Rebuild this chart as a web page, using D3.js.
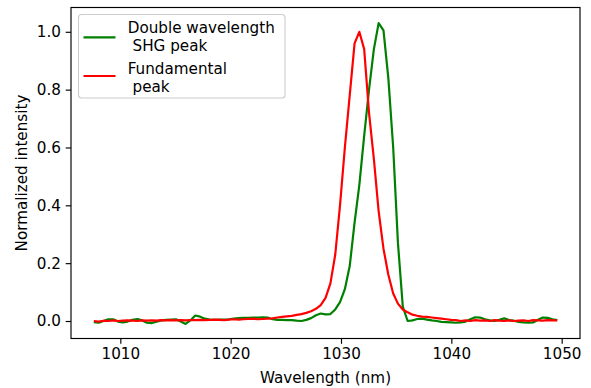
<!DOCTYPE html>
<html>
<head>
<meta charset="utf-8">
<script src="https://cdn.jsdelivr.net/npm/d3@7"></script>
<style>
  html, body { margin: 0; padding: 0; background: #ffffff; }
  svg { display: block; font-family: "DejaVu Sans", sans-serif; }
  text { white-space: pre; }
</style>
</head>
<body>
<svg id="chart" width="591" height="388"></svg>
<script>
// ---- data ----
const wavelength = [
  1007.60, 1008.04, 1008.48, 1008.91, 1009.35, 1009.79, 1010.23, 1010.66, 1011.10, 1011.54,
  1011.98, 1012.41, 1012.85, 1013.29, 1013.73, 1014.16, 1014.60, 1015.04, 1015.48, 1015.91,
  1016.35, 1016.79, 1017.23, 1017.66, 1018.10, 1018.54, 1018.98, 1019.41, 1019.85, 1020.29,
  1020.73, 1021.16, 1021.60, 1022.04, 1022.48, 1022.91, 1023.35, 1023.79, 1024.23, 1024.66,
  1025.10, 1025.54, 1025.98, 1026.41, 1026.85, 1027.29, 1027.73, 1028.16, 1028.60, 1029.04,
  1029.48, 1029.91, 1030.35, 1030.79, 1031.23, 1031.66, 1032.10, 1032.54, 1032.98, 1033.41,
  1033.85, 1034.29, 1034.73, 1035.16, 1035.60, 1036.04, 1036.48, 1036.91, 1037.35, 1037.79,
  1038.23, 1038.66, 1039.10, 1039.54, 1039.98, 1040.41, 1040.85, 1041.29, 1041.73, 1042.16,
  1042.60, 1043.04, 1043.48, 1043.91, 1044.35, 1044.79, 1045.23, 1045.66, 1046.10, 1046.54,
  1046.98, 1047.41, 1047.85, 1048.29, 1048.73, 1049.16, 1049.60
];
const shgPeak = [
  -0.004, -0.006, 0.000, 0.006, 0.006, -0.002, -0.005, -0.002, 0.004, 0.007,
  0.002, -0.006, -0.007, -0.002, 0.002, 0.004, 0.005, 0.006, -0.002, -0.010,
  0.002, 0.019, 0.015, 0.008, 0.005, 0.004, 0.005, 0.005, 0.006, 0.008,
  0.010, 0.011, 0.011, 0.012, 0.012, 0.013, 0.012, 0.006, 0.004, 0.004,
  0.003, 0.003, 0.001, 0.000, 0.004, 0.010, 0.020, 0.026, 0.023, 0.024,
  0.040, 0.065, 0.110, 0.190, 0.340, 0.470, 0.640, 0.800, 0.940, 1.030,
  1.005, 0.840, 0.600, 0.270, 0.050, 0.000, 0.002, 0.007, 0.008, 0.005,
  0.002, 0.000, -0.003, -0.004, -0.005, -0.006, -0.005, -0.002, 0.006, 0.013,
  0.012, 0.006, 0.002, 0.000, 0.004, 0.009, 0.003, 0.001, -0.003, -0.005,
  -0.006, -0.005, 0.004, 0.012, 0.011, 0.006, 0.003
];
const fundamentalPeak = [
  0.000, -0.002, 0.001, 0.000, 0.002, 0.000, 0.001, 0.002, 0.001, 0.000,
  0.002, 0.001, 0.002, 0.001, 0.003, 0.002, 0.003, 0.002, 0.003, 0.002,
  0.003, 0.003, 0.004, 0.003, 0.004, 0.005, 0.004, 0.003, 0.005, 0.006,
  0.005, 0.006, 0.007, 0.008, 0.006, 0.007, 0.008, 0.009, 0.012, 0.014,
  0.016, 0.018, 0.021, 0.024, 0.028, 0.034, 0.042, 0.055, 0.080, 0.130,
  0.230, 0.400, 0.600, 0.780, 0.960, 1.000, 0.940, 0.720, 0.560, 0.380,
  0.250, 0.160, 0.095, 0.060, 0.040, 0.030, 0.022, 0.018, 0.015, 0.014,
  0.012, 0.010, 0.008, 0.006, 0.004, 0.003, 0.000, 0.002, 0.000, 0.003,
  0.001, 0.002, 0.000, 0.003, 0.001, 0.000, 0.002, 0.000, 0.001, 0.002,
  0.000, 0.003, 0.002, 0.001, 0.003, 0.002, 0.002
];
const xTicks = [1010, 1020, 1030, 1040, 1050];
const yTicks = [0.0, 0.2, 0.4, 0.6, 0.8, 1.0];
const seriesNames = ["Double wavelength\n SHG peak", "Fundamental\n peak"];
const seriesColors = ["green", "red"];
const xLabel = "Wavelength (nm)";
const yLabel = "Normalized intensity";

// ---- layout ----
const plot = { left: 71, right: 580, top: 7.5, bottom: 338.5 };
const fontSize = 15.2;

const svg = d3.select("#chart");

const x = d3.scaleLinear().domain([1005.53, 1051.66]).range([plot.left, plot.right]);
const y = d3.scaleLinear().domain([-0.0605, 1.084]).range([plot.bottom, plot.top]);

// clip
svg.append("defs").append("clipPath").attr("id", "clip")
  .append("rect")
  .attr("x", plot.left).attr("y", plot.top)
  .attr("width", plot.right - plot.left).attr("height", plot.bottom - plot.top);

// lines
const series = [shgPeak, fundamentalPeak];
const line = d3.line()
  .x((d, i) => x(wavelength[i]))
  .y(d => y(d));

const g = svg.append("g").attr("clip-path", "url(#clip)");
series.forEach((vals, k) => {
  g.append("path")
    .datum(vals)
    .attr("fill", "none")
    .attr("stroke", seriesColors[k])
    .attr("stroke-width", 2.2)
    .attr("stroke-linejoin", "round")
    .attr("stroke-linecap", "butt")
    .attr("d", line);
});

// axes
const xAxis = d3.axisBottom(x).tickValues(xTicks).tickFormat(d3.format("d"))
  .tickSizeInner(5.3).tickSizeOuter(0).tickPadding(4.8);
const yAxis = d3.axisLeft(y).tickValues(yTicks).tickFormat(d3.format(".1f"))
  .tickSizeInner(5.3).tickSizeOuter(0).tickPadding(4.8);

const gx = svg.append("g").attr("transform", `translate(0,${plot.bottom})`).call(xAxis);
const gy = svg.append("g").attr("transform", `translate(${plot.left},0)`).call(yAxis);
[gx, gy].forEach(a => {
  a.select(".domain").remove();
  a.selectAll(".tick line").attr("stroke", "#000").attr("stroke-width", 1.15);
  a.selectAll(".tick text").attr("fill", "#000")
    .style("font-family", "DejaVu Sans").style("font-size", fontSize + "px");
});

// frame
svg.append("rect")
  .attr("x", plot.left).attr("y", plot.top)
  .attr("width", plot.right - plot.left).attr("height", plot.bottom - plot.top)
  .attr("fill", "none").attr("stroke", "#000").attr("stroke-width", 1.15);

// axis labels
svg.append("text")
  .attr("x", (plot.left + plot.right) / 2).attr("y", 383)
  .attr("text-anchor", "middle")
  .style("font-size", fontSize + "px").attr("fill", "#000")
  .text(xLabel);
svg.append("text")
  .attr("transform", `translate(26.5,${(plot.top + plot.bottom) / 2}) rotate(-90)`)
  .attr("text-anchor", "middle")
  .style("font-size", fontSize + "px").attr("fill", "#000")
  .text(yLabel);

// legend
const leg = svg.append("g");
leg.append("rect")
  .attr("x", 78.5).attr("y", 14.5).attr("width", 206.5).attr("height", 83.5)
  .attr("rx", 3).attr("ry", 3)
  .attr("fill", "#ffffff").attr("fill-opacity", 0.8)
  .attr("stroke", "#cccccc").attr("stroke-width", 1.1);

const entryLineY = [37.3, 76];
const entryTextY = [32.9, 73.9];
seriesNames.forEach((name, k) => {
  leg.append("line")
    .attr("x1", 83.5).attr("x2", 115.5)
    .attr("y1", entryLineY[k]).attr("y2", entryLineY[k])
    .attr("stroke", seriesColors[k]).attr("stroke-width", 2.2);
  const t = leg.append("text")
    .attr("x", 127.7).attr("y", entryTextY[k])
    .style("font-size", fontSize + "px").attr("fill", "#000");
  name.split("\n").forEach((ln, j) => {
    t.append("tspan").attr("x", 127.7).attr("y", entryTextY[k] + j * 17.6).text(ln);
  });
});
</script>
</body>
</html>
